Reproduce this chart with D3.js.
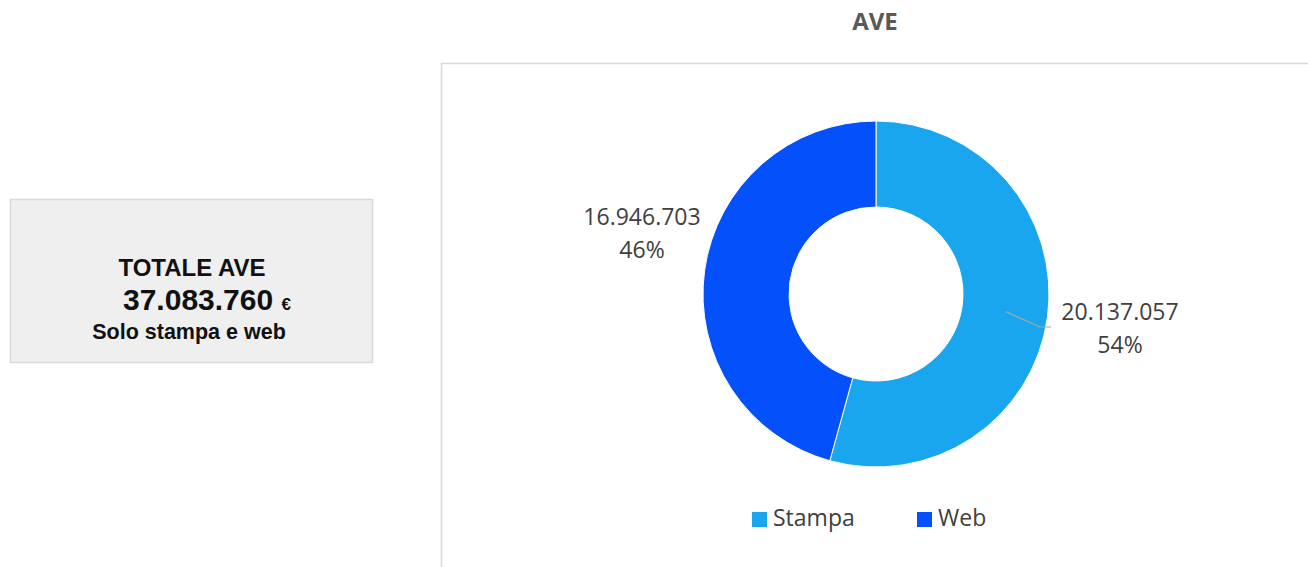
<!DOCTYPE html>
<html>
<head>
<meta charset="utf-8">
<script src="https://cdn.jsdelivr.net/npm/d3@7"></script>
<style>
  body { margin: 0; background: #fff; }
  svg { display: block; }
</style>
</head>
<body>
<svg id="chart" width="1308" height="567"></svg>
<script>
const categories = ["Stampa", "Web"];
const values = [20137057, 16946703];
const colors = ["#19a6ef", "#0451fc"];
const totalLabel = "37.083.760";

const svg = d3.select("#chart");
const fmt = v => d3.format(",")(v).replace(/,/g, ".");
const total = d3.sum(values);

// summary box on the left
svg.append("rect")
    .attr("x", 10.5).attr("y", 199.5)
    .attr("width", 362).attr("height", 163)
    .attr("fill", "#efefef")
    .attr("stroke", "#d9d9d9")
    .attr("stroke-width", 1.5);

const boxFont = "'Liberation Sans', Arial, sans-serif";
svg.append("text")
    .attr("x", 192).attr("y", 276)
    .attr("text-anchor", "middle")
    .attr("font-family", boxFont).attr("font-weight", "bold")
    .attr("font-size", "24px").attr("fill", "#111")
    .text("TOTALE AVE");
const tot = svg.append("text")
    .attr("x", 123).attr("y", 310)
    .attr("font-family", boxFont).attr("font-weight", "bold")
    .attr("fill", "#111");
tot.append("tspan").attr("font-size", "30px").text(totalLabel + " ");
tot.append("tspan").attr("font-size", "17px").text("€");
svg.append("text")
    .attr("x", 189).attr("y", 339)
    .attr("text-anchor", "middle")
    .attr("font-family", boxFont).attr("font-weight", "bold")
    .attr("font-size", "21.5px").attr("fill", "#111")
    .text("Solo stampa e web");

// chart frame
svg.append("path")
    .attr("d", "M441.5,567 V63.5 H1308")
    .attr("fill", "none")
    .attr("stroke", "#d9d9d9")
    .attr("stroke-width", 1.5);

const font = "'Open Sans', 'Noto Sans', sans-serif";
svg.append("text")
    .attr("x", 875).attr("y", 30)
    .attr("text-anchor", "middle")
    .attr("font-family", font).attr("font-weight", "bold")
    .attr("font-size", "24px").attr("fill", "#595959")
    .text("AVE");

// donut
const cx = 876, cy = 294, outerR = 173, innerR = 87;
const pie = d3.pie().sort(null).value(d => d)(values);
const arc = d3.arc().innerRadius(innerR).outerRadius(outerR);
const g = svg.append("g").attr("transform", `translate(${cx},${cy})`);
g.selectAll("path.slice")
    .data(pie)
    .enter()
    .append("path")
    .attr("class", "slice")
    .attr("d", arc)
    .attr("fill", (d, i) => colors[i])
    .attr("stroke", "#fff")
    .attr("stroke-width", 1);

// data labels
const labelPos = [[1120, 320], [642, 225]];
pie.forEach((d, i) => {
    const [lx, ly] = labelPos[i];
    const t = svg.append("text")
        .attr("text-anchor", "middle")
        .attr("font-family", font).attr("font-size", "23px")
        .attr("fill", "#404040");
    t.append("tspan").attr("x", lx).attr("y", ly).text(fmt(values[i]));
    t.append("tspan").attr("x", lx).attr("y", ly + 33).text(Math.round(values[i] / total * 100) + "%");
});

// leader line for Stampa
const mid = (pie[0].startAngle + pie[0].endAngle) / 2;
const p0 = [cx + Math.sin(mid) * 131, cy - Math.cos(mid) * 131];
svg.append("polyline")
    .attr("points", `${p0[0]},${p0[1]} 1040,327 1051,327`)
    .attr("fill", "none")
    .attr("stroke", "#a6a6a6")
    .attr("stroke-width", 1.2);

// legend
const legendX = [752, 917];
const lg = svg.selectAll("g.legend")
    .data(categories)
    .enter()
    .append("g")
    .attr("class", "legend")
    .attr("transform", (d, i) => `translate(${legendX[i]},512)`);
lg.append("rect")
    .attr("width", 15).attr("height", 15)
    .attr("fill", (d, i) => colors[i]);
lg.append("text")
    .attr("x", 21).attr("y", 14)
    .attr("font-family", font).attr("font-size", "23px")
    .attr("fill", "#404040")
    .text(d => d);
</script>
</body>
</html>
